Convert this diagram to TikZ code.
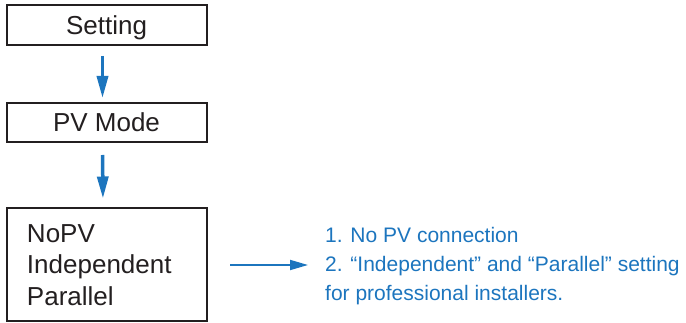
\documentclass[tikz,border=0pt]{standalone}
\usepackage{fontspec}
\setmainfont{Liberation Sans}
\usetikzlibrary{arrows.meta}
\definecolor{flowblue}{RGB}{28,117,190}
\definecolor{boxline}{RGB}{35,31,32}

\begin{document}
\begin{tikzpicture}[
    x=1pt, y=-1pt,
    menubox/.style={draw=boxline, line width=2pt, text=boxline, minimum width=200pt, inner sep=0pt, font=\fontsize{26}{31.5}\selectfont},
    titlebox/.style={menubox, text height=18.6pt, text depth=0pt},
    flowarrow/.style={draw=flowblue, line width=3.5pt, -{Triangle[length=22pt,width=11pt]}},
    notearrow/.style={draw=flowblue, line width=1.8pt, -{Triangle[length=18pt,width=10pt]}}
]
    \useasboundingbox (0,0) rectangle (686,323);

    \node[titlebox, minimum height=40pt] (setting) at (106.5,25) {Setting};
    \node[titlebox, minimum height=39pt] (pvmode) at (106.5,122.5) {PV Mode};
    \node[menubox, minimum height=113pt, text width=160pt, inner xsep=20pt, align=left] (options) at (107,265) {NoPV\\Independent\\Parallel};
    \node[font=\fontsize{21}{29}\selectfont, text=flowblue, align=left, anchor=west, inner sep=0pt] (notes) at (325,266) {1. No PV connection\\2. “Independent” and “Parallel” setting\\for professional installers.};

    \draw[flowarrow, shorten <=10pt, shorten >=4pt] ([xshift=-4pt]setting.south) -- ([xshift=-4pt]pvmode.north);
    \draw[flowarrow, shorten <=12pt, shorten >=9pt] ([xshift=-4pt]pvmode.south) -- ([xshift=-4pt]options.north);
    \draw[notearrow, shorten >=17pt] ([xshift=22pt]options.east) -- (notes.west |- options.east);
\end{tikzpicture}
\end{document}
